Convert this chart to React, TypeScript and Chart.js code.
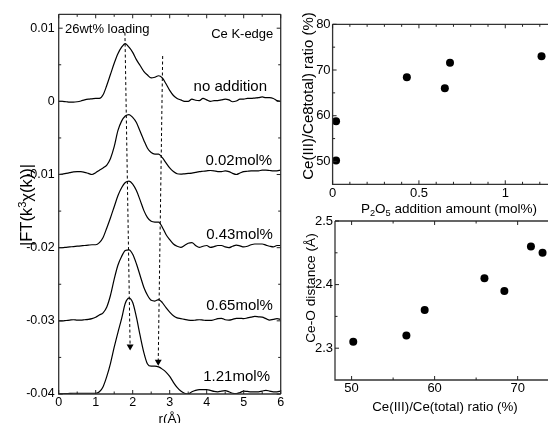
import React, { useEffect, useRef } from 'react';
import { Chart, registerables } from 'chart.js';

Chart.register(...registerables);

const FONT = "'Liberation Sans', Arial, Helvetica, sans-serif";

// ---------------- data: left panel (FT magnitude, units of 1e-4) ----------------
const R_GRID = [
  0.0, 0.1, 0.2, 0.3, 0.4, 0.5, 0.6, 0.7, 0.8, 0.9,
  1.0, 1.1, 1.2, 1.3, 1.4, 1.5, 1.6, 1.7, 1.8, 1.9,
  2.0, 2.1, 2.2, 2.3, 2.4, 2.5, 2.6, 2.7, 2.8, 2.9,
  3.0, 3.1, 3.2, 3.3, 3.4, 3.5, 3.6, 3.7, 3.8, 3.9,
  4.0, 4.1, 4.2, 4.3, 4.4, 4.5, 4.6, 4.7, 4.8, 4.9,
  5.0, 5.1, 5.2, 5.3, 5.4, 5.5, 5.6, 5.7, 5.8, 5.9,
  6.0,
];
const FT_UNIT = 1e-4;
const FT_NO_ADDITION = [
  0, 0, -0.5, -1, -1, -0.5, 0.5, 2, 3, 3.5,
  4, 4, 9, 22, 37, 52, 65, 74, 79, 74,
  67, 57, 49, 41, 36, 32, 33, 35, 32, 24,
  15, 8, 4, 2, 0, 0, 3, 1.5, 1, 4,
  2, 0, 1, 1, 2, 3, 2, -0.5, 0.5, 3,
  3, 4, 4, 4.5, 5, 6, 5, 5, 4, 1,
  0,
];
const FT_002 = [
  0, 0.5, 1.5, 2.5, 3.5, 4, 4, 3, 1.5, 0,
  2.5, 6, 9, 13, 22, 38, 60, 73, 80, 82,
  78, 71, 59, 47, 36, 30, 28, 28, 23, 16,
  9, 4, 1, 0.5, 1, 1.5, 2, 3, 4, 4.5,
  5, 5.5, 5, 4, 4, 5, 4, 1.5, 0, 2,
  4, 4.5, 5, 5, 5, 6, 6, 5.5, 5, 5,
  6,
];
const FT_043 = [
  0, 0, 0.5, 1, 1.5, 2, 2.5, 3, 3.5, 4,
  4, 7, 14, 27, 41, 56, 71, 82, 89, 91,
  87, 78, 65, 51, 41, 36, 35, 35, 28, 18,
  11, 5, 2, 0.5, 3, 6, 7, 3, 0.5, 2,
  3, 0.5, 1.5, 3, 3, 1, 0, 2, 3.5, 2.5,
  1, 2, 4, 5, 5, 5, 3.5, 2, 1, 3,
  3,
];
const FT_065 = [
  0, 0, 0.5, 1, 1.5, 1, 1, 1.5, 2, 3,
  5, 8, 11, 19, 35, 57, 76, 88, 96, 97,
  91, 78, 62, 46, 35, 28, 27, 29, 25, 18,
  12, 7, 4, 3, 2, 1, 0.5, 1, 1.5, 1,
  0.5, 0.5, 1.5, 3, 3.5, 1.5, 1, 2, 3.5, 3.5,
  3, 4, 5, 6, 5.5, 5, 3, 1, 2, 3,
  2,
];
const FT_121 = [
  0, 0.3, 0.5, 0.8, 1, 1, 1, 1, 1, 1,
  1, 3, 10, 24, 42, 64, 84, 103, 124, 131,
  125, 105, 80, 57, 41, 38, 38, 37, 34, 30,
  24, 16, 9, 4, 1, 0, 3, 5, 6, 6,
  6, 5, 3.5, 3, 4, 4.5, 3, 1, 0.5, 2,
  4, 3.5, 3, 3, 3, 4, 5, 4, 3, 3,
  4,
];
const FT_CURVES = [FT_NO_ADDITION, FT_002, FT_043, FT_065, FT_121];
const FT_OFFSETS = [0, -0.01, -0.02, -0.03, -0.04];
const FT_LABELS = ['no addition', '0.02mol%', '0.43mol%', '0.65mol%', '1.21mol%'];
const FT_LABEL_R = [5.63, 5.77, 5.79, 5.79, 5.71];
const FT_LABEL_Y = [0.002, -0.0081, -0.0182, -0.028, -0.0376];

const GUIDE_MAIN_R = [1.79, 1.93];
const GUIDE_MAIN_Y = [0.0094, -0.0335];
const GUIDE_SHOULDER_R = [2.81, 2.69];
const GUIDE_SHOULDER_Y = [0.0062, -0.0356];

const LEFT_X_TICKS = [0, 1, 2, 3, 4, 5, 6];
const LEFT_X_LABELS = ['0', '1', '2', '3', '4', '5', '6'];
const LEFT_X_MINOR = [0.5, 1.5, 2.5, 3.5, 4.5, 5.5];
const LEFT_Y_TICKS = [-0.04, -0.03, -0.02, -0.01, 0, 0.01];
const LEFT_Y_LABELS = ['-0.04', '-0.03', '-0.02', '-0.01', '0', '0.01'];
const LEFT_Y_MINOR = [-0.035, -0.025, -0.015, -0.005, 0.005];

// ---------------- data: top-right panel ----------------
const P2O5_AMOUNT = [0.02, 0.02, 0.43, 0.65, 0.68, 1.21];
const CE3_RATIO_TOP = [58.8, 50.2, 68.4, 66.0, 71.6, 73.0];
const TR_X_TICKS = [0, 0.5, 1];
const TR_X_LABELS = ['0', '0.5', '1'];
const TR_X_MINOR = [0.1, 0.2, 0.3, 0.4, 0.6, 0.7, 0.8, 0.9, 1.1, 1.2, 1.3];
const TR_Y_TICKS = [50, 60, 70, 80];
const TR_Y_LABELS = ['50', '60', '70', '80'];
const TR_Y_MINOR = [55, 65, 75];

// ---------------- data: bottom-right panel ----------------
const CE3_RATIO_BOTTOM = [50.2, 56.6, 58.8, 66.0, 68.4, 71.6, 73.0];
const CEO_DISTANCE = [2.31, 2.32, 2.36, 2.41, 2.39, 2.46, 2.45];
const BR_X_TICKS = [50, 60, 70];
const BR_X_LABELS = ['50', '60', '70'];
const BR_X_MINOR = [55, 65];
const BR_Y_TICKS = [2.3, 2.4, 2.5];
const BR_Y_LABELS = ['2.3', '2.4', '2.5'];
const BR_Y_MINOR = [2.35, 2.45];

// ---------------- helpers ----------------
type Seg = { t: string; s?: 'sub' | 'sup' };

function drawRich(ctx: CanvasRenderingContext2D, segs: Seg[], x: number, y: number, size: number, rotate: boolean) {
  ctx.save();
  ctx.translate(x, y);
  if (rotate) ctx.rotate(-Math.PI / 2);
  const font = (sz: number) => `${sz}px ${FONT}`;
  let total = 0;
  const widths = segs.map((sg) => {
    ctx.font = font(sg.s ? size * 0.68 : size);
    const w = ctx.measureText(sg.t).width;
    total += w;
    return w;
  });
  let cx = -total / 2;
  ctx.textAlign = 'left';
  ctx.textBaseline = 'alphabetic';
  ctx.fillStyle = '#000';
  const base = size * 0.36;
  segs.forEach((sg, i) => {
    ctx.font = font(sg.s ? size * 0.68 : size);
    const dy = sg.s === 'sub' ? size * 0.22 : sg.s === 'sup' ? -size * 0.42 : 0;
    ctx.fillText(sg.t, cx, base + dy);
    cx += widths[i];
  });
  ctx.restore();
}

type FrameCfg = {
  xMajor: number[]; xMinor: number[]; yMajor: number[]; yMinor: number[];
  right: boolean;
  xTitle: { segs: Seg[]; x: number; y: number; size: number };
  yTitle: { segs: Seg[]; x: number; y: number; size: number };
  notes?: { text: string; x: number; y: number; align: CanvasTextAlign; size: number }[];
};

function makeFrame(cfg: FrameCfg) {
  return {
    id: 'frame',
    afterDraw(chart: any) {
      const { ctx, chartArea: a, scales } = chart;
      const xs = scales.x;
      const ys = scales.y;
      ctx.save();
      ctx.strokeStyle = '#333';
      ctx.lineWidth = 1.3;
      ctx.beginPath();
      ctx.moveTo(a.left, a.top);
      ctx.lineTo(a.left, a.bottom);
      ctx.lineTo(a.right, a.bottom);
      ctx.moveTo(a.left, a.top);
      ctx.lineTo(a.right, a.top);
      if (cfg.right) {
        ctx.moveTo(a.right, a.top);
        ctx.lineTo(a.right, a.bottom);
      }
      ctx.stroke();
      ctx.lineWidth = 1;
      ctx.strokeStyle = '#222';
      ctx.beginPath();
      const tx = (vals: number[], len: number) => vals.forEach((v) => {
        const p = xs.getPixelForValue(v);
        ctx.moveTo(p, a.bottom); ctx.lineTo(p, a.bottom - len);
        ctx.moveTo(p, a.top); ctx.lineTo(p, a.top + len);
      });
      const ty = (vals: number[], len: number) => vals.forEach((v) => {
        const p = ys.getPixelForValue(v);
        ctx.moveTo(a.left, p); ctx.lineTo(a.left + len, p);
        if (cfg.right) { ctx.moveTo(a.right, p); ctx.lineTo(a.right - len, p); }
      });
      tx(cfg.xMajor, 4); tx(cfg.xMinor, 2.5);
      ty(cfg.yMajor, 4); ty(cfg.yMinor, 2.5);
      ctx.stroke();
      drawRich(ctx, cfg.xTitle.segs, cfg.xTitle.x, cfg.xTitle.y, cfg.xTitle.size, false);
      drawRich(ctx, cfg.yTitle.segs, cfg.yTitle.x, cfg.yTitle.y, cfg.yTitle.size, true);
      (cfg.notes || []).forEach((n) => {
        ctx.font = `${n.size}px ${FONT}`;
        ctx.fillStyle = '#000';
        ctx.textAlign = n.align;
        ctx.textBaseline = 'middle';
        ctx.fillText(n.text, xs.getPixelForValue(n.x), ys.getPixelForValue(n.y));
      });
      ctx.restore();
    },
  };
}

function axis(opts: {
  min: number; max: number; ticks: number[]; labels: string[]; size: number; padding: number; fit: (s: any) => void;
}) {
  return {
    type: 'linear',
    min: opts.min,
    max: opts.max,
    grid: { display: false, drawTicks: false },
    border: { display: false },
    ticks: {
      autoSkip: false,
      maxRotation: 0,
      color: '#000',
      padding: opts.padding,
      font: { family: FONT, size: opts.size },
      callback: (v: number) => {
        const i = opts.ticks.indexOf(v);
        return i >= 0 ? opts.labels[i] : '';
      },
    },
    afterBuildTicks: (s: any) => { s.ticks = opts.ticks.map((v) => ({ value: v })); },
    afterFit: opts.fit,
  };
}

const common = {
  animation: false,
  responsive: false,
  events: [],
  plugins: { legend: { display: false }, tooltip: { enabled: false } },
};

export default function App() {
  const leftRef = useRef<HTMLCanvasElement>(null);
  const trRef = useRef<HTMLCanvasElement>(null);
  const brRef = useRef<HTMLCanvasElement>(null);

  useEffect(() => {
    const charts: Chart[] = [];

    const curveSets = FT_CURVES.map((c, k) => ({
      data: R_GRID.map((r, i) => ({ x: r, y: c[i] * FT_UNIT + FT_OFFSETS[k] })),
      borderColor: '#000',
      borderWidth: 1.2,
      pointRadius: 0,
      fill: false,
      cubicInterpolationMode: 'monotone',
    }));
    const guide = (rs: number[], ys: number[]) => ({
      data: rs.map((r, i) => ({ x: r, y: ys[i] })),
      borderColor: '#000',
      borderWidth: 1,
      borderDash: [3, 2.5],
      pointRadius: [0, 4],
      pointStyle: 'triangle',
      pointRotation: 180,
      pointBackgroundColor: '#000',
      pointBorderWidth: 0,
      fill: false,
    });

    charts.push(new Chart(leftRef.current as HTMLCanvasElement, {
      type: 'line',
      data: { datasets: [...curveSets, guide(GUIDE_MAIN_R, GUIDE_MAIN_Y), guide(GUIDE_SHOULDER_R, GUIDE_SHOULDER_Y)] as any },
      options: {
        ...common,
        layout: { padding: { top: 14.3, right: 11.3, left: 0, bottom: 0 } },
        scales: {
          x: axis({ min: 0, max: 6, ticks: LEFT_X_TICKS, labels: LEFT_X_LABELS, size: 12.5, padding: 1, fit: (s) => { s.height = 29; } }),
          y: axis({ min: -0.04, max: 0.0119, ticks: LEFT_Y_TICKS, labels: LEFT_Y_LABELS, size: 12.5, padding: 4, fit: (s) => { s.width = 58.7; } }),
        },
      } as any,
      plugins: [makeFrame({
        xMajor: LEFT_X_TICKS, xMinor: LEFT_X_MINOR, yMajor: LEFT_Y_TICKS, yMinor: LEFT_Y_MINOR,
        right: true,
        xTitle: { segs: [{ t: 'r(Å)' }], x: 169.7, y: 418, size: 13.5 },
        yTitle: { segs: [{ t: '|FT(k' }, { t: '3', s: 'sup' }, { t: 'χ(k))|' }], x: 26.5, y: 205, size: 16.5 },
        notes: [
          { text: '26wt% loading', x: 0.17, y: 0.0099, align: 'left', size: 13 },
          { text: 'Ce K-edge', x: 5.8, y: 0.0092, align: 'right', size: 13 },
          ...FT_LABELS.map((t, i) => ({ text: t, x: FT_LABEL_R[i], y: FT_LABEL_Y[i], align: 'right' as CanvasTextAlign, size: 15 })),
        ],
      }) as any],
    }));

    charts.push(new Chart(trRef.current as HTMLCanvasElement, {
      type: 'scatter',
      data: {
        datasets: [{
          data: P2O5_AMOUNT.map((x, i) => ({ x, y: CE3_RATIO_TOP[i] })),
          pointRadius: 4,
          pointBackgroundColor: '#000',
          pointBorderWidth: 0,
        }],
      },
      options: {
        ...common,
        layout: { padding: { top: 24.3, right: 14.3, left: 0, bottom: 0 } },
        scales: {
          x: axis({ min: 0, max: 1.35, ticks: TR_X_TICKS, labels: TR_X_LABELS, size: 13, padding: 1, fit: (s) => { s.height = 40.7; } }),
          y: axis({ min: 45, max: 80, ticks: TR_Y_TICKS, labels: TR_Y_LABELS, size: 13, padding: 2, fit: (s) => { s.width = 52.6; } }),
        },
      } as any,
      plugins: [makeFrame({
        xMajor: TR_X_TICKS, xMinor: TR_X_MINOR, yMajor: TR_Y_TICKS, yMinor: TR_Y_MINOR,
        right: false,
        xTitle: { segs: [{ t: 'P' }, { t: '2', s: 'sub' }, { t: 'O' }, { t: '5', s: 'sub' }, { t: ' addition amount (mol%)' }], x: 169, y: 208, size: 13.5 },
        yTitle: { segs: [{ t: 'Ce(III)/Ce8total) ratio (%)' }], x: 27.5, y: 96, size: 15 },
      }) as any],
    }));

    charts.push(new Chart(brRef.current as HTMLCanvasElement, {
      type: 'scatter',
      data: {
        datasets: [{
          data: CE3_RATIO_BOTTOM.map((x, i) => ({ x, y: CEO_DISTANCE[i] })),
          pointRadius: 4,
          pointBackgroundColor: '#000',
          pointBorderWidth: 0,
        }],
      },
      options: {
        ...common,
        layout: { padding: { top: 11, right: 25, left: 0, bottom: 0 } },
        scales: {
          x: axis({ min: 48, max: 74.5, ticks: BR_X_TICKS, labels: BR_X_LABELS, size: 13, padding: 1, fit: (s) => { s.height = 43; } }),
          y: axis({ min: 2.25, max: 2.5, ticks: BR_Y_TICKS, labels: BR_Y_LABELS, size: 13, padding: 2, fit: (s) => { s.width = 55; } }),
        },
      } as any,
      plugins: [makeFrame({
        xMajor: BR_X_TICKS, xMinor: BR_X_MINOR, yMajor: BR_Y_TICKS, yMinor: BR_Y_MINOR,
        right: false,
        xTitle: { segs: [{ t: 'Ce(III)/Ce(total) ratio (%)' }], x: 165, y: 196.7, size: 13.3 },
        yTitle: { segs: [{ t: 'Ce-O distance (Å)' }], x: 30, y: 78, size: 13.7 },
      }) as any],
    }));

    return () => charts.forEach((c) => c.destroy());
  }, []);

  return (
    <div style={{ position: 'absolute', left: 0, top: 0, width: 548, height: 423, overflow: 'hidden', background: '#fff' }}>
      <canvas ref={leftRef} width={292} height={423} style={{ position: 'absolute', left: 0, top: 0 }} />
      <canvas ref={trRef} width={300} height={225} style={{ position: 'absolute', left: 280, top: 0 }} />
      <canvas ref={brRef} width={300} height={213} style={{ position: 'absolute', left: 280, top: 210 }} />
    </div>
  );
}
